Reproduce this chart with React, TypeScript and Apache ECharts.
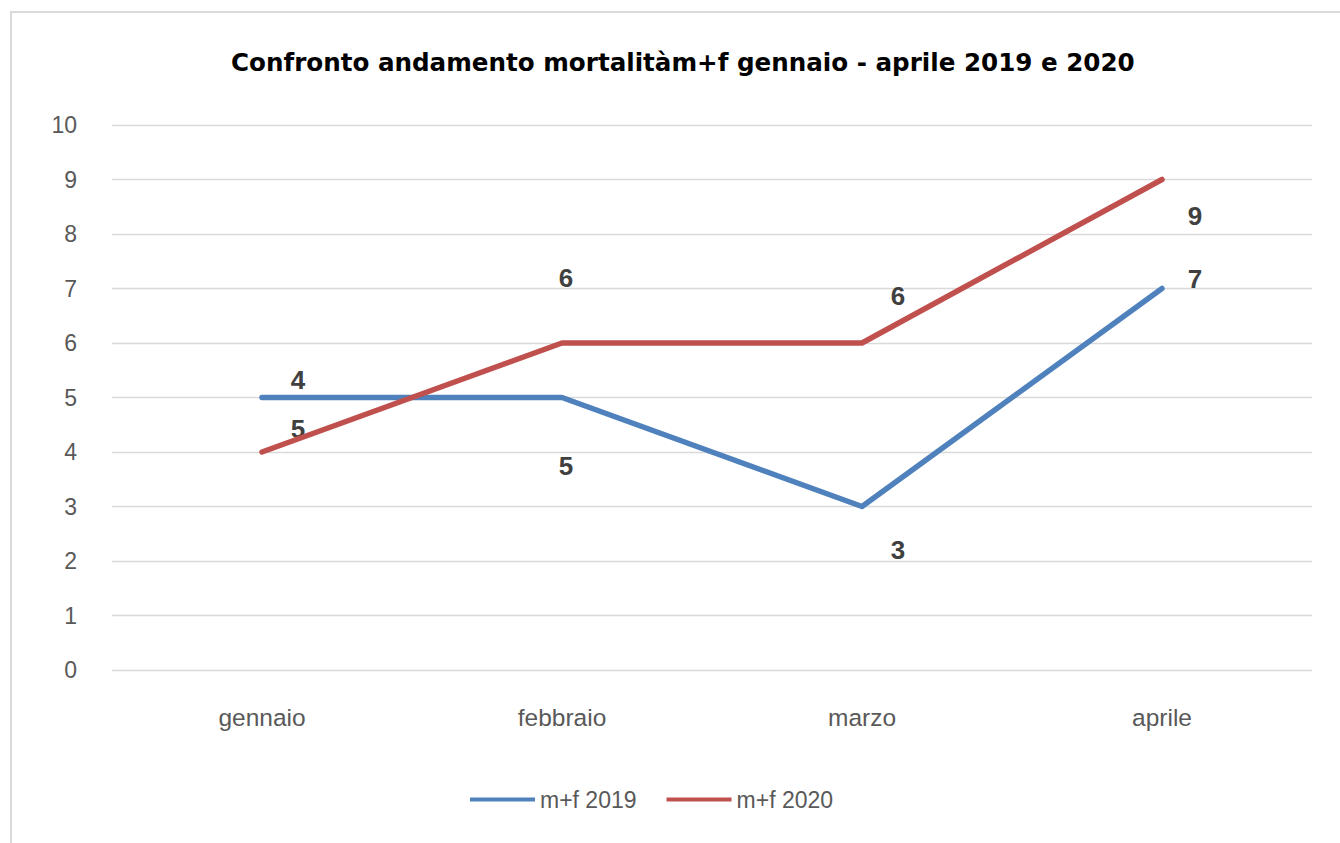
import React, { useEffect, useRef } from "react";
import * as echarts from "echarts";

const categories = ["gennaio", "febbraio", "marzo", "aprile"];
const series2019 = [5, 5, 3, 7];
const series2020 = [4, 6, 6, 9];
const seriesNames = ["m+f 2019", "m+f 2020"];
const yTicks = [0, 1, 2, 3, 4, 5, 6, 7, 8, 9, 10];
const titleText = "Confronto andamento mortalitàm+f gennaio - aprile 2019 e 2020";

// label placement offsets (style only)
const offsets2019: [number, number][] = [[36, 31], [4, 68], [36, 43], [33, -10]];
const offsets2020: [number, number][] = [[36, -72], [4, -65], [36, -47], [33, 36]];

const narrow = "'Liberation Sans Narrow', 'Arial Narrow', 'Liberation Sans', Arial, sans-serif";

export default function App() {
  const ref = useRef<HTMLDivElement>(null);
  useEffect(() => {
    if (!ref.current) return;
    const chart = echarts.init(ref.current, undefined, { renderer: "svg" });
    const mkData = (vals: number[], offs: [number, number][]) =>
      vals.map((v, i) => ({
        value: v,
        label: { offset: offs[i] },
      }));
    const labelStyle = {
      show: true,
      position: "inside",
      fontFamily: "'Liberation Sans', Arial, sans-serif",
      fontWeight: "bold",
      fontSize: 26,
      color: "#404040",
    };
    chart.setOption({
      animation: false,
      backgroundColor: "#fff",
      title: {
        text: titleText,
        left: 226,
        top: 45,
        textStyle: {
          fontFamily: "'DejaVu Sans', sans-serif",
          fontWeight: "bold",
          fontSize: 24.6,
          color: "#000",
        },
      },
      graphic: [
        {
          type: "polyline",
          shape: { points: [[11, 900], [11, 12], [1400, 12]] },
          style: { stroke: "#D9D9D9", lineWidth: 2, fill: "none" },
          silent: true,
        },
      ],
      legend: {
        bottom: 27,
        left: 465,
        itemWidth: 65,
        itemHeight: 4,
        itemGap: 30,
        icon: "rect",
        textStyle: { fontFamily: narrow, fontSize: 23, color: "#595959" },
        data: seriesNames,
      },
      grid: { left: 112, right: 28, top: 125, bottom: 173 },
      xAxis: {
        type: "category",
        data: categories,
        boundaryGap: true,
        axisLine: { show: false },
        axisTick: { show: false },
        axisLabel: { fontFamily: narrow, fontSize: 24.5, color: "#595959", margin: 35 },
      },
      yAxis: {
        type: "value",
        min: yTicks[0],
        max: yTicks[yTicks.length - 1],
        interval: 1,
        axisLine: { show: false },
        axisTick: { show: false },
        splitLine: { lineStyle: { color: "#D9D9D9", width: 1.3 } },
        axisLabel: { fontFamily: narrow, fontSize: 23, color: "#595959", margin: 35 },
      },
      series: [
        {
          name: seriesNames[0],
          type: "line",
          data: mkData(series2019, offsets2019),
          symbol: "circle",
          symbolSize: 1,
          itemStyle: { color: "#4F81BD", opacity: 1 },
          lineStyle: { color: "#4F81BD", width: 5.5, cap: "round", join: "round" },
          label: labelStyle,
          z: 2,
        },
        {
          name: seriesNames[1],
          type: "line",
          data: mkData(series2020, offsets2020),
          symbol: "circle",
          symbolSize: 1,
          itemStyle: { color: "#C0504D", opacity: 1 },
          lineStyle: { color: "#C0504D", width: 5.5, cap: "round", join: "round" },
          label: labelStyle,
          z: 3,
        },
      ],
    });
    return () => chart.dispose();
  }, []);
  return (
    <div
      ref={ref}
      style={{ position: "fixed", left: 0, top: 0, width: 1340, height: 843 }}
    />
  );
}
